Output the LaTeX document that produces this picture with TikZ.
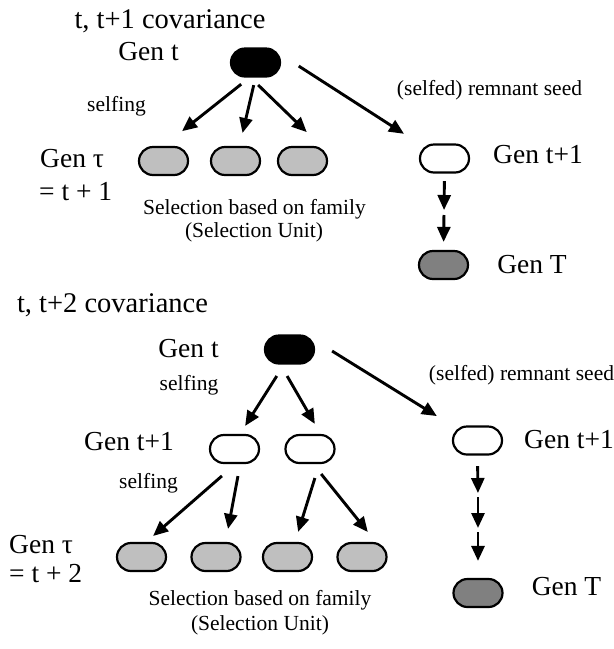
\documentclass[tikz,border=0pt]{standalone}
\usepackage{fontspec}
\setmainfont{Liberation Serif}
\usetikzlibrary{arrows.meta, calc}

\begin{document}
\begin{tikzpicture}[x=1pt, y=-1pt, >={Triangle[length=15pt,width=13pt]},
        gen/.style={draw, line width=2.2pt, rounded corners=14pt, minimum width=49pt, minimum height=28pt, inner sep=0pt},
        parent/.style={gen, fill=black},
        family/.style={gen, fill=gray!50},
        remnant/.style={gen, fill=white},
        final/.style={gen, fill=gray},
        big/.style={font=\fontsize{27.5}{30}\selectfont, inner sep=0pt, anchor=base},
        head/.style={font=\fontsize{28.5}{31}\selectfont, inner sep=0pt, anchor=base},
        small/.style={font=\fontsize{21.5}{24}\selectfont, inner sep=0pt, anchor=base},
        arr/.style={->, line width=2.9pt}]
        \useasboundingbox (0,0) rectangle (614,649);

        % t, t+1 covariance (top)
        \node[head] (title1) at (170,28) {t, t+1 covariance};
        \node[big] (gent1) at (148.5,60) {Gen t};
        \node[parent] (par1) at (255.5,62.5) {};
        \node[small] (self1) at (116.5,111) {selfing};
        \node[big, anchor=base west] (tau1) at (40,167) {Gen τ};
        \node[big, anchor=base west] (eq1) at (39,200) {= t + 1};
        \node[family] (s11) at (163.5,161) {};
        \node[family] (s12) at (235.5,161) {};
        \node[family] (s13) at (302.5,161) {};
        \node[small] (selA) at (254.5,214) {Selection based on family};
        \node[small] (unitA) at (254,237) {(Selection Unit)};
        \node[small] (seed1) at (489.5,95) {(selfed) remnant seed};
        \node[remnant] (rem1) at (444.5,158.5) {};
        \node[big] (genr1) at (538,163) {Gen t+1};
        \node[final] (end1) at (443.5,265) {};
        \node[big] (genT1) at (532,273) {Gen T};
        \coordinate (mid1) at (444,212.5);

        \draw[arr, shorten <=10.6pt, shorten >=23.7pt] ([xshift=-6pt]par1.south) -- (s11.north);
        \draw[arr, shorten <=7.7pt, shorten >=13.3pt] (par1.south) -- ([xshift=4pt]s12.north);
        \draw[arr, shorten <=10.6pt, shorten >=19.8pt] ([xshift=-5pt]par1.south) -- ([xshift=18.5pt]s13.north);
        \draw[arr, shorten <=21pt, shorten >=17.7pt] ([yshift=7.8pt]par1.east) -- (rem1.north west);
        \draw[arr, shorten <=7.5pt, shorten >=2.5pt] (rem1.south) -- (mid1);
        \draw[arr, shorten <=2.5pt, shorten >=8pt] (mid1) -- (end1.north);

        % t, t+2 covariance (bottom)
        \node[head] (title2) at (112.5,312) {t, t+2 covariance};
        \node[big] (gent2) at (188.5,357) {Gen t};
        \node[parent] (par2) at (289.5,349.5) {};
        \node[small] (self2) at (189,390) {selfing};
        \node[big] (gen2) at (129,450) {Gen t+1};
        \node[remnant] (w1) at (234.5,449) {};
        \node[remnant] (w2) at (310,449) {};
        \node[small] (self3) at (148.5,488) {selfing};
        \node[big, anchor=base west] (tau2) at (9,553) {Gen τ};
        \node[big, anchor=base west] (eq2) at (9,582) {= t + 2};
        \node[family] (s21) at (141.5,557) {};
        \node[family] (s22) at (216,557) {};
        \node[family] (s23) at (287.5,557) {};
        \node[family] (s24) at (362,557) {};
        \node[small] (selB) at (260,605) {Selection based on family};
        \node[small] (unitB) at (260,630) {(Selection Unit)};
        \node[small] (seed2) at (521.5,380) {(selfed) remnant seed};
        \node[remnant] (rem2) at (477.5,440.5) {};
        \node[big] (genr2) at (569,448) {Gen t+1};
        \node[final] (end2) at (478,593) {};
        \node[big] (genT2) at (566.5,595) {Gen T};
        \coordinate (mid2) at (478,495);
        \coordinate (mid3) at (478,530);

        \draw[arr, shorten <=13.5pt, shorten >=9.4pt] ([xshift=-5.5pt]par2.south) -- ([xshift=5.6pt]w1.north);
        \draw[arr, shorten <=13.2pt, shorten >=11.5pt] ([xshift=-9pt]par2.south) -- ([xshift=10.6pt]w2.north);
        \draw[arr, shorten <=18pt, shorten >=9pt] ([xshift=1pt]w1.south) -- ([xshift=4.8pt]s21.north);
        \draw[arr, shorten <=12.2pt, shorten >=13.2pt] ([xshift=5.7pt]w1.south) -- ([xshift=9.6pt]s22.north);
        \draw[arr, shorten <=14.6pt, shorten >=10.5pt] ([xshift=9.25pt]w2.south) -- ([xshift=7.5pt]s23.north);
        \draw[arr, shorten <=12.7pt, shorten >=12.7pt] ([xshift=3.2pt]w2.south) -- ([xshift=13.8pt]s24.north);
        \draw[arr, shorten <=20pt, shorten >=17.7pt] ([yshift=9pt]par2.east) -- (rem2.north west);
        \draw[arr, shorten <=10.5pt, shorten >=2pt] (rem2.south) -- (mid2);
        \draw[arr, shorten <=2pt, shorten >=2pt] (mid2) -- (mid3);
        \draw[arr, shorten <=2pt, shorten >=17pt] (mid3) -- (end2.north);
    \end{tikzpicture}
\end{document}
